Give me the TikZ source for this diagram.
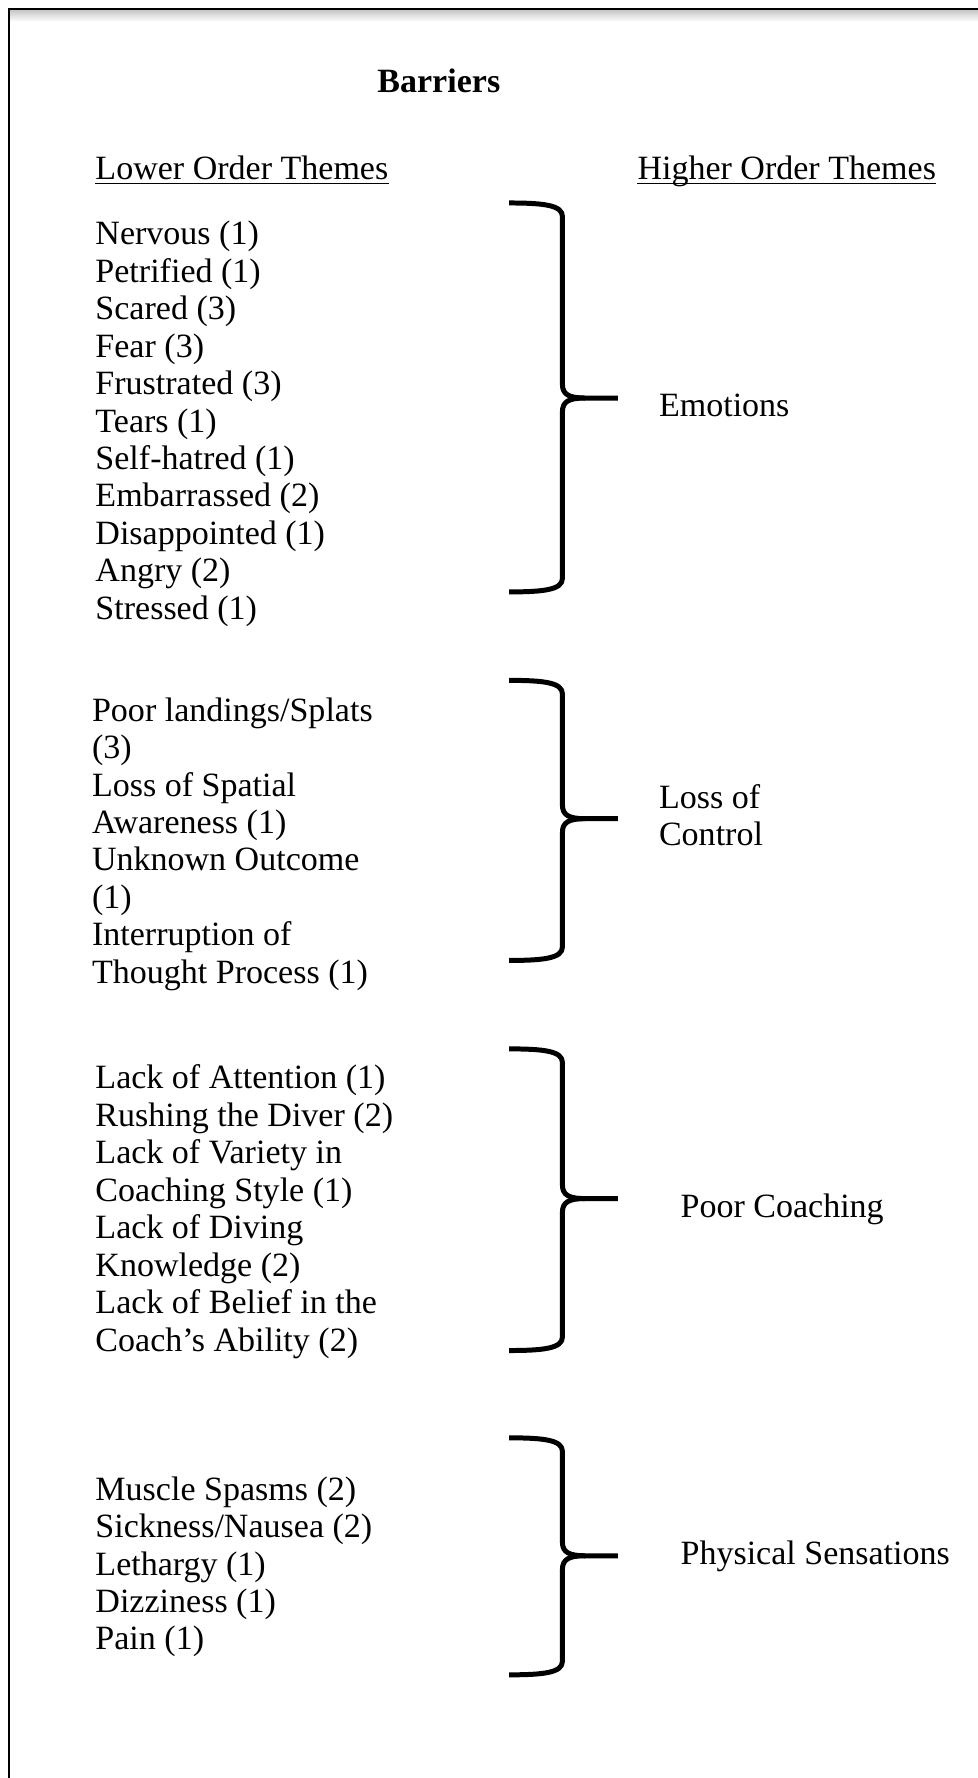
\documentclass[tikz,border=0pt]{standalone}
\usepackage{fontspec}
\setmainfont{Liberation Serif}
\tikzset{
  item/.style={anchor=base west, inner sep=0pt, font=\fontsize{30}{33}\selectfont},
  title/.style={anchor=base, inner sep=0pt, font=\fontsize{30}{33}\selectfont\bfseries},
  bracepath/.style={line width=4.4pt, line join=round},
  frameline/.style={line width=2pt},
  uline/.style={line width=1.4pt}
}
\newcommand\hobrace[3]{%
  \draw[bracepath] (449,#1) .. controls (480,#1) and (496,{#1+2}) .. (496,{#1+12})
     -- (496,{#2-12}) .. controls (496,{#2-3}) and (502,#2) .. (516,#2) -- (545,#2);
  \draw[bracepath] (516,#2) .. controls (502,#2) and (496,{#2+3}) .. (496,{#2+12})
     -- (496,{#3-12}) .. controls (496,{#3-2}) and (480,#3) .. (449,#3);
}
\begin{document}
\begin{tikzpicture}[x=1pt,y=-1pt]
\useasboundingbox (0,0) rectangle (862,1568);
\fill[white] (0,0) rectangle (862,1568);
\shade[top color=black!22, bottom color=white] (9,9) rectangle (870,19);
\draw[frameline] (8,1600) -- (8,8) -- (880,8);

\node[title] (barriers) at (387,82) {Barriers};
\node[item] (low) at (84,158) {Lower Order Themes};
\node[item] (high) at (562,158) {Higher Order Themes};
\draw[uline] ([yshift=-4pt]low.base west) -- ([yshift=-4pt]low.base east);
\draw[uline] ([yshift=-4pt]high.base west) -- ([yshift=-4pt]high.base east);

% Emotions
\foreach \t [count=\i] in {Nervous (1), Petrified (1), Scared (3), Fear (3), Frustrated (3), Tears (1), Self-hatred (1), Embarrassed (2), Disappointed (1), Angry (2), Stressed (1)}
  \node[item] (emo\i) at (84,{216+33*(\i-1)}) {\t};
\hobrace{179}{351}{522}
\node[item] (emotions) at (581,367) {Emotions};

% Loss of control
\foreach \t [count=\i] in {Poor landings/Splats, (3), Loss of Spatial, Awareness (1), Unknown Outcome, (1), Interruption of, Thought Process (1)}
  \node[item] (loss\i) at (81,{636+33*(\i-1)}) {\t};
\hobrace{600}{722}{847}
\node[item] (lossa) at (581,713) {Loss of};
\node[item] (lossb) at (581,746) {Control};

% Poor coaching
\foreach \t [count=\i] in {Lack of Attention (1), Rushing the Diver (2), Lack of Variety in, Coaching Style (1), Lack of Diving, Knowledge (2), Lack of Belief in the, Coach’s Ability (2)}
  \node[item] (coach\i) at (84,{960+33.1*(\i-1)}) {\t};
\hobrace{925}{1057}{1191}
\node[item] (coaching) at (600,1074) {Poor Coaching};

% Physical sensations
\foreach \t [count=\i] in {Muscle Spasms (2), Sickness/Nausea (2), Lethargy (1), Dizziness (1), Pain (1)}
  \node[item] (phys\i) at (84,{1323+33*(\i-1)}) {\t};
\hobrace{1268}{1372}{1477}
\node[item] (physical) at (600,1380) {Physical Sensations};
\end{tikzpicture}
\end{document}
